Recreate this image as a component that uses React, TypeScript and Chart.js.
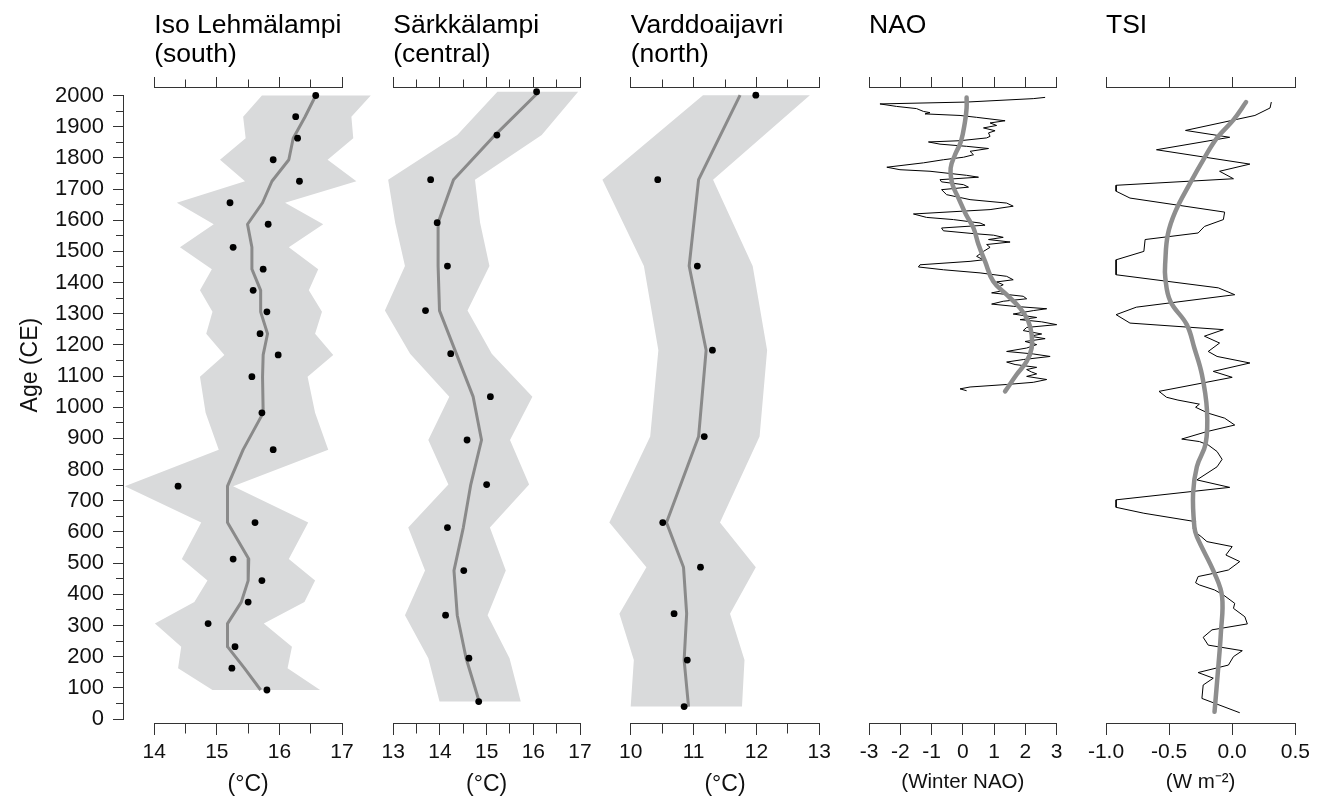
import React, { useEffect, useRef } from 'react';
import { Chart, registerables } from 'chart.js';

Chart.register(...registerables);

const FONT = '"Liberation Sans", Arial, Helvetica, sans-serif';
Chart.defaults.font.family = FONT;
Chart.defaults.color = '#000';

const W = 1320;
const H = 801;
const AX = '#333';
const BAND = '#d9dadb';
const LINE = '#8a8a8a';

// ---------- Iso Lehmälampi (south) ----------
const isoAges = [2000, 1932, 1863, 1794, 1725, 1656, 1587, 1513, 1443, 1375, 1306, 1236, 1168, 1098, 982, 864, 747, 630, 513, 444, 375, 306, 232, 163, 93];
const isoTemp = [16.58, 16.26, 16.29, 15.9, 16.32, 15.21, 15.82, 15.26, 15.74, 15.58, 15.8, 15.69, 15.98, 15.56, 15.72, 15.9, 14.38, 15.61, 15.26, 15.72, 15.5, 14.86, 15.29, 15.24, 15.8];
const isoSmooth = [16.58, 16.41, 16.22, 16.15, 15.88, 15.73, 15.49, 15.56, 15.56, 15.7, 15.7, 15.81, 15.74, 15.73, 15.74, 15.42, 15.17, 15.17, 15.51, 15.5, 15.39, 15.17, 15.17, 15.44, 15.7];
const isoLow = [15.72, 15.42, 15.46, 15.05, 15.45, 14.36, 14.95, 14.41, 14.92, 14.73, 14.93, 14.83, 15.12, 14.73, 14.82, 15.03, 13.53, 14.75, 14.44, 14.85, 14.64, 14.01, 14.43, 14.38, 14.93];
const isoHigh = [17.46, 17.15, 17.18, 16.77, 17.23, 16.09, 16.7, 16.15, 16.62, 16.47, 16.68, 16.57, 16.86, 16.45, 16.57, 16.78, 15.26, 16.46, 16.15, 16.57, 16.4, 15.75, 16.2, 16.13, 16.65];

// ---------- Särkkälampi (central) ----------
const sarAges = [2012, 1873, 1730, 1592, 1453, 1310, 1172, 1034, 895, 752, 614, 476, 333, 195, 56];
const sarTemp = [16.07, 15.22, 13.8, 13.94, 14.16, 13.69, 14.23, 15.08, 14.58, 15.0, 14.16, 14.51, 14.12, 14.62, 14.83];
const sarSmooth = [16.12, 15.18, 14.29, 13.96, 13.96, 13.99, 14.35, 14.71, 14.89, 14.66, 14.5, 14.3, 14.37, 14.56, 14.84];
const sarLow = [15.23, 14.37, 12.89, 13.04, 13.25, 12.82, 13.36, 14.2, 13.75, 14.18, 13.32, 13.68, 13.25, 13.75, 13.99];
const sarHigh = [16.96, 16.18, 14.75, 14.86, 15.06, 14.59, 15.11, 15.98, 15.5, 15.91, 15.07, 15.41, 15.02, 15.49, 15.73];

// ---------- Varddoaijavri (north) ----------
const varAges = [2001, 1730, 1453, 1183, 906, 630, 487, 338, 189, 40];
const varTemp = [11.99, 10.43, 11.06, 11.3, 11.17, 10.51, 11.11, 10.69, 10.9, 10.85];
const varSmooth = [11.74, 11.08, 10.93, 11.2, 11.08, 10.57, 10.84, 10.89, 10.85, 10.92];
const varLow = [11.15, 9.55, 10.21, 10.44, 10.31, 9.66, 10.25, 9.82, 10.05, 10.0];
const varHigh = [12.85, 11.31, 11.94, 12.17, 12.05, 11.42, 11.99, 11.58, 11.81, 11.77];

// ---------- Winter NAO ----------
const naoAges = [1994, 1990, 1979, 1973, 1965, 1958, 1949, 1945, 1941, 1936,
  1930, 1919, 1912, 1904, 1896, 1887, 1880, 1869, 1864, 1855,
  1851, 1844, 1837, 1830, 1821, 1810, 1802, 1794, 1784, 1770,
  1762, 1757, 1744, 1738, 1730, 1723, 1714, 1706, 1698, 1682,
  1666, 1655, 1645, 1634, 1620, 1609, 1602, 1591, 1584, 1575,
  1566, 1558, 1552, 1545, 1538, 1530, 1522, 1513, 1500, 1484,
  1473, 1468, 1457, 1450, 1441, 1431, 1420, 1409, 1402, 1393,
  1385, 1374, 1367, 1356, 1348, 1340, 1331, 1324, 1316, 1310,
  1299, 1288, 1281, 1274, 1265, 1256, 1246, 1235, 1228, 1220,
  1211, 1201, 1190, 1179, 1171, 1163, 1153, 1145, 1137, 1128,
  1121, 1113, 1107, 1099, 1089, 1080, 1073, 1065, 1059, 1053];
const naoValues = [2.63, 2.25, 0.12, -2.65, -2.12, -1.48, -1.26, -1.05, -1.21, -0.09,
  0.44, 1.35, 0.87, 1.08, 0.66, 1.03, 0.82, 0.87, 0.76, -0.09,
  -1.1, -0.73, 0.12, 0.82, 0.23, 0.34, 0.02, -0.62, -1.26, -2.43,
  -2.01, -1.05, 0.12, 0.5, -0.73, -0.68, 0.02, 0.18, -0.68, -0.52,
  0.23, 1.4, 1.61, 0.87, -1.58, -1.16, -0.3, 0.55, 0.71, -0.68,
  -0.62, 0.23, 0.98, 1.29, 0.82, 1.51, 0.76, 0.87, 0.66, 0.44,
  0.66, 0.23, -1.37, -1.42, -0.62, 0.55, 1.4, 1.61, 1.08, 1.29,
  1.13, 1.29, 0.92, 1.93, 2.04, 1.29, 0.92, 1.61, 2.68, 2.25,
  1.61, 2.36, 1.83, 2.52, 3.0, 2.04, 1.93, 2.52, 2.15, 2.63,
  1.99, 2.36, 2.04, 1.4, 2.25, 2.79, 1.93, 1.4, 1.67, 2.36,
  2.04, 2.2, 2.36, 2.04, 2.68, 2.25, 1.4, 0.23, -0.09, 0.12];
const naoSmoothAges = [1994, 1960, 1917, 1853, 1810, 1767, 1714, 1671, 1618, 1575, 1522, 1468, 1404, 1361, 1318, 1276, 1233, 1190, 1147, 1105, 1051];
const naoSmooth = [0.12, 0.12, 0.07, -0.06, -0.25, -0.39, -0.33, -0.14, 0.1, 0.34, 0.5, 0.71, 0.97, 1.4, 1.83, 2.09, 2.2, 2.2, 2.04, 1.72, 1.35];

// ---------- TSI ----------
const tsiAges = [1979, 1960, 1936, 1888, 1866, 1826, 1780, 1757, 1733, 1712,
  1693, 1671, 1626, 1602, 1580, 1559, 1538, 1500, 1473, 1425,
  1383, 1361, 1321, 1297, 1270, 1249, 1228, 1206, 1179, 1163,
  1142, 1115, 1096, 1051, 1032, 1023, 1010, 1000, 981, 965,
  943, 922, 898, 890, 879, 858, 833, 809, 767, 743,
  703, 679, 660, 633, 612, 596, 583, 569, 553, 526,
  505, 478, 467, 457, 437, 430, 414, 398, 371, 355,
  328, 305, 286, 262, 237, 219, 200, 173, 149, 131,
  109, 66, 20];
const tsiValues = [0.31, 0.3, 0.18, -0.37, -0.02, -0.6, 0.14, -0.1, 0.01, -0.92,
  -0.92, -0.81, -0.06, -0.07, -0.22, -0.27, -0.69, -0.7, -0.92, -0.92,
  -0.11, 0.02, -0.76, -0.92, -0.81, -0.07, -0.22, -0.1, -0.19, -0.12,
  0.14, -0.15, 0.0, -0.58, -0.52, -0.43, -0.26, -0.29, -0.19, -0.06,
  0.02, -0.2, -0.4, -0.26, -0.19, -0.12, -0.08, -0.12, -0.28, -0.02,
  -0.92, -0.92, -0.7, -0.29, -0.31, -0.28, -0.24, -0.2, 0.0, -0.05,
  0.06, -0.03, -0.15, -0.27, -0.29, -0.26, -0.14, -0.07, 0.02, 0.01,
  0.1, 0.12, -0.16, -0.23, -0.19, 0.08, 0.01, -0.03, -0.27, -0.15,
  -0.23, -0.24, 0.06];
const tsiSmoothAges = [1979, 1922, 1864, 1800, 1714, 1628, 1554, 1468, 1415, 1340, 1265, 1190, 1105, 991, 884, 809, 724, 617, 585, 467, 392, 275, 168, 23];
const tsiSmooth = [0.11, 0.01, -0.12, -0.22, -0.34, -0.45, -0.51, -0.53, -0.53, -0.49, -0.36, -0.3, -0.24, -0.2, -0.21, -0.28, -0.31, -0.3, -0.28, -0.14, -0.08, -0.09, -0.11, -0.14];

// ---------- axis ticks ----------
const ageTicks = { min: 0, max: 2000, step: 50, labelEvery: 100 };
const isoTicks = { min: 14, max: 17, step: 0.5 };
const sarTicks = { min: 13, max: 17, step: 0.5 };
const varTicks = { min: 10, max: 13, step: 0.5 };
const naoTicks = { min: -3, max: 3, step: 1 };
const tsiTicks = { min: -1, max: 0.5, step: 0.5 };

const AGE_TITLE = 'Age (CE)';
const AGE_TITLE_CENTER = 1135; // the age the rotated axis title is centred on

// ---------- helpers ----------
const pts = (xs: number[], ys: number[]) => ys.map((y, i) => ({ x: xs[i], y }));

const bandPlugin = {
  id: 'bandFill',
  beforeDatasetsDraw(chart: any) {
    const ctx = chart.ctx;
    chart.data.datasets.forEach((ds: any, i: number) => {
      if (!ds.isBand) return;
      const els = chart.getDatasetMeta(i).data;
      if (!els.length) return;
      ctx.save();
      ctx.beginPath();
      els.forEach((p: any, j: number) => (j ? ctx.lineTo(p.x, p.y) : ctx.moveTo(p.x, p.y)));
      ctx.closePath();
      ctx.fillStyle = ds.backgroundColor;
      ctx.fill();
      ctx.restore();
    });
  },
};

const yTitlePlugin = {
  id: 'yTitle',
  afterDraw(chart: any) {
    const s = chart.scales.y;
    const ctx = chart.ctx;
    ctx.save();
    ctx.translate(31, s.getPixelForValue(AGE_TITLE_CENTER));
    ctx.rotate(-Math.PI / 2);
    ctx.textAlign = 'center';
    ctx.textBaseline = 'middle';
    ctx.fillStyle = '#111';
    ctx.font = `23px ${FONT}`;
    ctx.fillText(AGE_TITLE, 0, 0);
    ctx.restore();
  },
};

function proxyDatasets(ages: number[], temp: number[], smooth: number[], low: number[], high: number[]) {
  const band = [...pts(low, ages), ...pts(high, ages).reverse()];
  return [
    { label: 'band', isBand: true, data: band, showLine: false, pointRadius: 0, backgroundColor: BAND, order: 3 },
    { label: 'smooth', data: pts(smooth, ages), showLine: true, borderColor: LINE, borderWidth: 3, borderJoinStyle: 'round', pointRadius: 0, tension: 0, order: 2, clip: false },
    { label: 'recon', data: pts(temp, ages), showLine: false, pointRadius: 3.4, backgroundColor: '#000', borderWidth: 0, order: 1, clip: false },
  ];
}

function seriesDatasets(ages: number[], vals: number[], sAges: number[], sVals: number[]) {
  return [
    { label: 'raw', data: pts(vals, ages), showLine: true, borderColor: '#000', borderWidth: 1, borderJoinStyle: 'round', pointRadius: 0, tension: 0, order: 2, clip: false },
    { label: 'smooth', data: pts(sVals, sAges), showLine: true, borderColor: '#8e8e8e', borderWidth: 4.5, borderCapStyle: 'round', pointRadius: 0, tension: 0.4, order: 1, clip: false },
  ];
}

type PanelCfg = {
  left: number; width: number; padL: number; padR: number;
  ticks: { min: number; max: number; step: number };
  title: string | string[];
  unit: string; unitSize: number; unitPad: number;
  label: (v: number) => string;
  major: (v: number) => boolean;
  datasets: any[];
};

function panelConfig(c: PanelCfg): any {
  const { min, max, step } = c.ticks;
  return {
    type: 'scatter',
    data: { datasets: c.datasets },
    plugins: [bandPlugin],
    options: {
      responsive: false,
      animation: false,
      devicePixelRatio: 1,
      events: [],
      layout: { padding: { left: c.padL, right: c.padR, top: 0, bottom: 0 } },
      plugins: { legend: { display: false }, tooltip: { enabled: false } },
      scales: {
        x: {
          type: 'linear', position: 'bottom', min, max,
          ticks: {
            stepSize: step, autoSkip: false, maxRotation: 0, padding: 5, color: '#111',
            font: { size: 21 }, callback: (v: number) => c.label(v),
          },
          grid: {
            drawOnChartArea: false, tickLength: 12, tickColor: AX, tickWidth: 1,
            tickBorderDash: (ctx: any) => (c.major(ctx.tick.value) ? [] : [9.5, 100]),
          },
          border: { color: AX, width: 1 },
          title: { display: true, text: c.unit, color: '#111', font: { size: c.unitSize, lineHeight: 1.2 }, padding: { top: 0, bottom: c.unitPad } },
          afterFit: (s: any) => { s.height = 78; },
        },
        xTop: {
          type: 'linear', position: 'top', min, max,
          ticks: { stepSize: step, autoSkip: false, display: false },
          grid: {
            drawOnChartArea: false, tickLength: 10, tickColor: AX, tickWidth: 1,
            tickBorderDash: (ctx: any) => (c.major(ctx.tick.value) ? [] : [0, 2.5, 20, 0]),
          },
          border: { color: AX, width: 1 },
          title: { display: true, text: c.title, align: 'start', color: '#000', font: { size: 26.5, lineHeight: 29 / 26.5 }, padding: { top: 11.5, bottom: 0 } },
          afterFit: (s: any) => { s.height = 87; },
        },
        y: { type: 'linear', display: false, min: -12.83, max: 2027.3 },
      },
    },
  };
}

function yAxisConfig(): any {
  return {
    type: 'scatter',
    data: { datasets: [] },
    plugins: [yTitlePlugin],
    options: {
      responsive: false,
      animation: false,
      devicePixelRatio: 1,
      events: [],
      layout: { padding: { left: 0, right: 0, top: 95.5, bottom: 82 } },
      plugins: { legend: { display: false }, tooltip: { enabled: false } },
      scales: {
        x: { type: 'linear', display: false, min: 0, max: 1 },
        y: {
          type: 'linear', position: 'left', min: ageTicks.min, max: ageTicks.max,
          ticks: {
            stepSize: ageTicks.step, autoSkip: false, padding: 9, color: '#111', font: { size: 22 },
            callback: (v: number) => (v % ageTicks.labelEvery === 0 ? String(v) : ''),
          },
          grid: {
            drawOnChartArea: false, tickLength: 10, tickColor: AX, tickWidth: 1,
            tickBorderDash: (ctx: any) => (ctx.tick.value % ageTicks.labelEvery === 0 ? [] : [0, 3, 20, 0]),
          },
          border: { color: AX, width: 1 },
          title: { display: false },
          afterFit: (s: any) => { s.width = 123; },
        },
      },
    },
  };
}

function ChartCanvas({ left, width, make }: { left: number; width: number; make: () => any }) {
  const ref = useRef<HTMLCanvasElement>(null);
  useEffect(() => {
    const chart = new Chart(ref.current as HTMLCanvasElement, make());
    return () => chart.destroy();
  }, []);
  return (
    <canvas
      ref={ref}
      width={width}
      height={H}
      style={{ position: 'absolute', left, top: 0, width, height: H, display: 'block' }}
    />
  );
}

const intLabel = (v: number) => (Number.isInteger(v) ? String(v) : '');
const isInt = (v: number) => Number.isInteger(Math.round(v * 1000) / 1000);

const panels: PanelCfg[] = [
  {
    left: 118, width: 262, padL: 36.3, padR: 38, ticks: isoTicks,
    title: ['Iso Lehmälampi', '(south)'], unit: '(°C)', unitSize: 23, unitPad: 3,
    label: intLabel, major: isInt,
    datasets: proxyDatasets(isoAges, isoTemp, isoSmooth, isoLow, isoHigh),
  },
  {
    left: 372, width: 228, padL: 21.3, padR: 20, ticks: sarTicks,
    title: ['Särkkälampi', '(central)'], unit: '(°C)', unitSize: 23, unitPad: 3,
    label: intLabel, major: isInt,
    datasets: proxyDatasets(sarAges, sarTemp, sarSmooth, sarLow, sarHigh),
  },
  {
    left: 598, width: 240, padL: 32.7, padR: 18.7, ticks: varTicks,
    title: ['Varddoaijavri', '(north)'], unit: '(°C)', unitSize: 23, unitPad: 3,
    label: intLabel, major: isInt,
    datasets: proxyDatasets(varAges, varTemp, varSmooth, varLow, varHigh),
  },
  {
    left: 848, width: 226, padL: 21, padR: 17.3, ticks: naoTicks,
    title: 'NAO', unit: '(Winter NAO)', unitSize: 20.5, unitPad: 6,
    label: (v: number) => String(v), major: () => true,
    datasets: seriesDatasets(naoAges, naoValues, naoSmoothAges, naoSmooth),
  },
  {
    left: 1082, width: 234, padL: 24, padR: 20.7, ticks: tsiTicks,
    title: 'TSI', unit: '(W m⁻²)', unitSize: 20.5, unitPad: 6,
    label: (v: number) => v.toFixed(1), major: () => true,
    datasets: seriesDatasets(tsiAges, tsiValues, tsiSmoothAges, tsiSmooth),
  },
];

export default function App() {
  return (
    <div style={{ position: 'absolute', left: 0, top: 0, width: W, height: H, background: '#fff', overflow: 'hidden' }}>
      <ChartCanvas left={0} width={130} make={yAxisConfig} />
      {panels.map((p, i) => (
        <ChartCanvas key={i} left={p.left} width={p.width} make={() => panelConfig(p)} />
      ))}
    </div>
  );
}
